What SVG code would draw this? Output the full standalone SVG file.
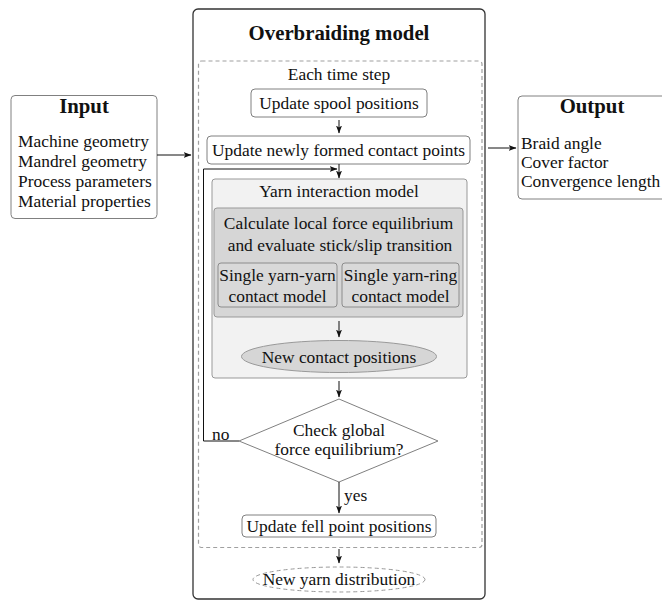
<svg xmlns="http://www.w3.org/2000/svg" width="662" height="602" viewBox="0 0 662 602">
  <style>
    text { font-family: "Liberation Serif", "Times New Roman", serif; font-size: 17.4px; fill: #111; }
    .title { font-size: 20.8px; font-weight: bold; }
    .c { text-anchor: middle; }
    .box { fill: #fff; stroke: #808080; stroke-width: 1; }
    .outer { fill: #fff; stroke: #333; stroke-width: 1.3; }
    .dash { fill: none; stroke: #a0a0a0; stroke-width: 1.2; stroke-dasharray: 4 3; }
    .panel { fill: #f2f2f2; stroke: #999; stroke-width: 1; }
    .gray { fill: #d6d6d6; stroke: #999; stroke-width: 1; }
    .sub { fill: #d9d9d9; stroke: #8c8c8c; stroke-width: 1; }
    .conn { fill: none; stroke: #111; stroke-width: 1; }
  </style>
  <defs>
    <marker id="arrow" viewBox="0 0 8 6" refX="7.5" refY="3" markerWidth="8" markerHeight="6" markerUnits="userSpaceOnUse" orient="auto">
      <path d="M0,0 L8,3 L0,6 L2,3 z" fill="#111"/>
    </marker>
  </defs>

  <!-- Input -->
  <g id="input">
    <rect class="box" x="11" y="95.5" width="146" height="123" rx="4" stroke="#333"/>
    <text class="title c" x="84" y="113">Input</text>
    <text x="18" y="147">Machine geometry</text>
    <text x="18" y="167">Mandrel geometry</text>
    <text x="18" y="187">Process parameters</text>
    <text x="18" y="207">Material properties</text>
  </g>

  <!-- Output -->
  <g id="output">
    <rect class="box" x="518" y="96" width="160" height="103" rx="4" stroke="#333"/>
    <text class="title c" x="592" y="113">Output</text>
    <text x="521" y="149">Braid angle</text>
    <text x="521" y="168">Cover factor</text>
    <text x="521" y="187">Convergence length</text>
  </g>

  <!-- Overbraiding model container -->
  <g id="model">
    <rect class="outer" x="193" y="9" width="292" height="590" rx="5"/>
    <text class="title c" x="339" y="40">Overbraiding model</text>
  </g>

  <!-- Time step loop -->
  <g id="timestep">
    <rect class="dash" x="198.5" y="61" width="283.5" height="486.5" rx="3"/>
    <text class="c" x="339" y="80">Each time step</text>
  </g>

  <g id="spool">
    <rect class="box" x="251" y="89" width="176" height="28" rx="4"/>
    <text class="c" x="339" y="109">Update spool positions</text>
  </g>

  <g id="contacts">
    <rect class="box" x="207" y="136" width="263" height="28" rx="4"/>
    <text class="c" x="338.5" y="156">Update newly formed contact points</text>
  </g>

  <g id="yarn-interaction">
    <rect class="panel" x="212" y="179" width="255" height="199" rx="3"/>
    <text class="c" x="339" y="197">Yarn interaction model</text>
  </g>

  <g id="local-equilibrium">
    <rect class="gray" x="214" y="208" width="249" height="109" rx="3"/>
    <text class="c" x="338.5" y="229">Calculate local force equilibrium</text>
    <text class="c" x="340" y="251">and evaluate stick/slip transition</text>
  </g>

  <g id="yarn-yarn">
    <rect class="sub" x="218" y="263" width="119" height="44" rx="3"/>
    <text class="c" x="277.5" y="281">Single yarn-yarn</text>
    <text class="c" x="277.5" y="302">contact model</text>
  </g>

  <g id="yarn-ring">
    <rect class="sub" x="342" y="263" width="117" height="44" rx="3"/>
    <text class="c" x="400.5" y="281">Single yarn-ring</text>
    <text class="c" x="400.5" y="302">contact model</text>
  </g>

  <g id="new-contacts">
    <ellipse class="gray" cx="339" cy="356.5" rx="97.5" ry="16" stroke="#888"/>
    <text class="c" x="339" y="362.5">New contact positions</text>
  </g>

  <g id="global-check">
    <polygon points="339,399 438,441 339,482 239,441" fill="#fff" stroke="#808080" stroke-width="1"/>
    <text class="c" x="339" y="436">Check global</text>
    <text class="c" x="339" y="455">force equilibrium?</text>
  </g>

  <g id="fell-point">
    <rect class="box" x="242" y="515" width="194" height="22" rx="4"/>
    <text class="c" x="339" y="532">Update fell point positions</text>
  </g>

  <g id="distribution">
    <ellipse cx="339" cy="579.5" rx="86" ry="12.5" fill="#fff" stroke="#999" stroke-width="1" stroke-dasharray="4 3"/>
    <text class="c" x="339" y="585">New yarn distribution</text>
  </g>

  <!-- Connectors -->
  <g id="connectors">
    <line class="conn" x1="157" y1="155" x2="191" y2="155" marker-end="url(#arrow)"/>
    <line class="conn" x1="488" y1="148" x2="516" y2="148" marker-end="url(#arrow)"/>
    <line class="conn" x1="339" y1="120" x2="339" y2="133" marker-end="url(#arrow)"/>
    <line class="conn" x1="339" y1="164" x2="339" y2="178" marker-end="url(#arrow)"/>
    <line class="conn" x1="339" y1="321" x2="339" y2="337" marker-end="url(#arrow)"/>
    <line class="conn" x1="339" y1="381" x2="339" y2="397" marker-end="url(#arrow)"/>
    <line class="conn" x1="339" y1="482" x2="339" y2="513" marker-end="url(#arrow)"/>
    <line class="conn" x1="339" y1="549" x2="339" y2="563" marker-end="url(#arrow)"/>
    <polyline class="conn" points="239,441 203.5,441 203.5,169 337,169" marker-end="url(#arrow)"/>
    <text x="212" y="440">no</text>
    <text x="344" y="501">yes</text>
  </g>
</svg>
